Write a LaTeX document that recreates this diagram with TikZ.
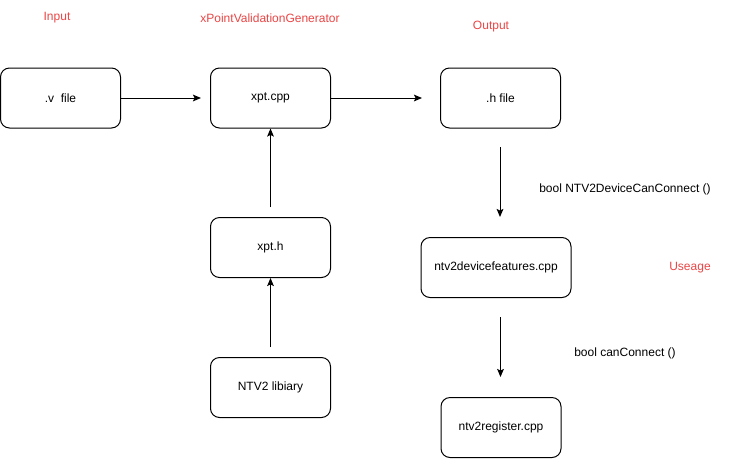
\documentclass[tikz,border=0pt]{standalone}
\usepackage{fontspec}
\setmainfont{Liberation Sans}
\usetikzlibrary{arrows.meta}
\definecolor{lblred}{RGB}{234,70,70}
\begin{document}
\begin{tikzpicture}[x=0.75pt,y=-0.75pt,
  box/.style={draw,rounded corners=6.75pt,line width=0.75pt,minimum width=90pt,minimum height=45pt,inner sep=0pt,font=\fontsize{9}{11}\selectfont},
  widebox/.style={box,minimum width=112.5pt},
  redlbl/.style={text=lblred,font=\fontsize{9}{11}\selectfont,inner sep=0pt},
  txtlbl/.style={text=black,font=\fontsize{9}{11}\selectfont,inner sep=0pt},
  arr/.style={line width=0.75pt,-{Stealth[length=6pt,width=5pt,inset=1.2pt]}}]
\useasboundingbox[fill=white] (0,0) rectangle (731,458);
\node[box] (vfile) at (60.5,98) {.v\ \ file};
\node[box] (xptcpp) at (270.5,98) {xpt.cpp};
\node[box] (hfile) at (500.5,98) {.h file};
\node[box] (xpth) at (270.5,247.5) {xpt.h};
\node[box] (ntv2) at (270.5,387.5) {NTV2 libiary};
\node[widebox] (devfeat) at (496,267.5) {ntv2devicefeatures.cpp};
\node[box] (reg) at (501,427.5) {ntv2register.cpp};
\node[redlbl] (input) at (57,18) {Input};
\node[redlbl] (gen) at (270,18) {xPointValidationGenerator};
\node[redlbl] (output) at (491,27) {Output};
\node[redlbl] (useage) at (690,268) {Useage};
\node[txtlbl] (l1) at (625,189) {bool NTV2DeviceCanConnect ()};
\node[txtlbl] (l2) at (625,353) {bool canConnect ()};
\coordinate (e1) at (201,98);
\coordinate (e2) at (422,98);
\coordinate (s3) at (270.5,207);
\coordinate (s4) at (270.5,347);
\coordinate (s5) at (500,147);
\coordinate (e5) at (500,217);
\coordinate (s6) at (500.5,317);
\coordinate (e6) at (500.5,377);
\draw[arr] (vfile.east) -- (e1);
\draw[arr] (xptcpp.east) -- (e2);
\draw[arr] (s3) -- (xptcpp.south);
\draw[arr] (s4) -- (xpth.south);
\draw[arr] (s5) -- (e5);
\draw[arr] (s6) -- (e6);
\end{tikzpicture}
\end{document}
